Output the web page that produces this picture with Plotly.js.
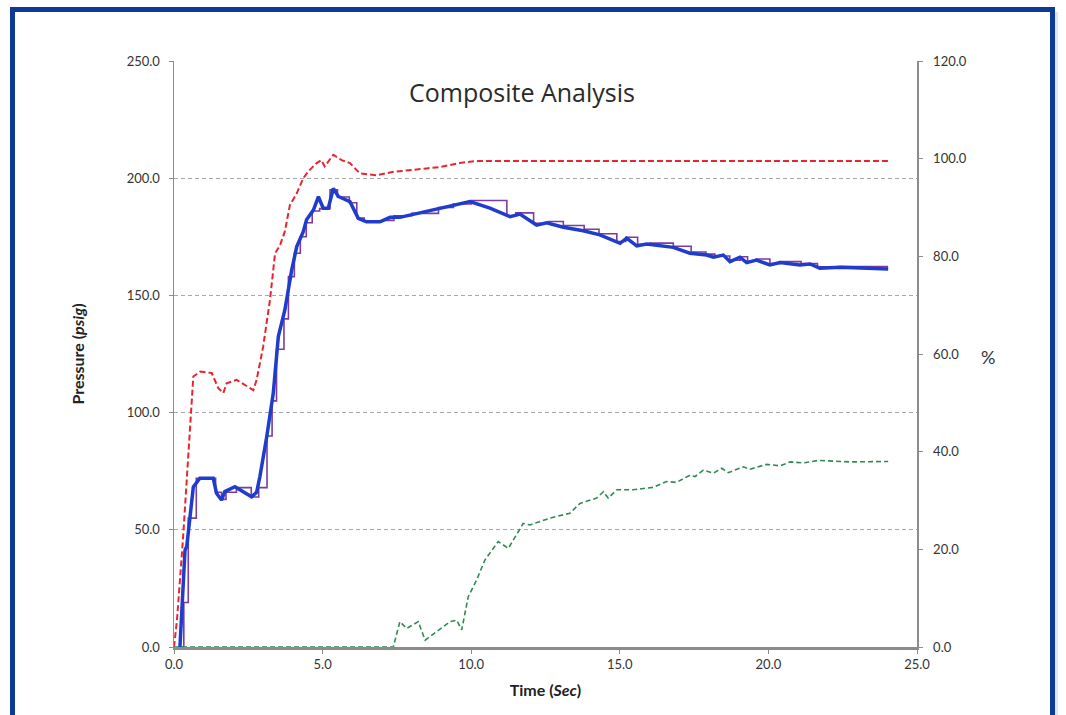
<!DOCTYPE html>
<html>
<head>
<meta charset="utf-8">
<script src="https://cdn.plot.ly/plotly-3.0.1.min.js"></script>
<style>
  html, body { margin: 0; padding: 0; background: #ffffff; overflow: hidden; }
  #wrap { position: relative; width: 1066px; height: 715px; }
  #chart { position: absolute; left: 0; top: 0; width: 1066px; height: 715px; }
  #frame { position: absolute; left: 10px; top: 7px; width: 1045px; height: 720px;
           border: 5px solid #0b3a98; pointer-events: none; box-sizing: border-box; }
  #frameR { position: absolute; left: 1054px; top: 12px; width: 4px; height: 710px;
            background: #dfe6f3; pointer-events: none; }
</style>
</head>
<body>
<div id="wrap">
  <div id="chart"></div>
  <div id="frameR"></div>
  <div id="frame"></div>
</div>
<script>
// ---- Data ----
// Blue: pressure (psig) vs time (sec)
const blueT = [0.2,0.37,0.43,0.65,0.87,1.32,1.43,1.60,1.71,2.05,2.61,2.78,2.89,3.12,3.34,3.51,3.73,3.96,4.13,4.35,4.46,4.69,4.86,5.02,5.19,5.36,5.53,5.92,6.20,6.48,6.93,7.27,7.60,7.94,8.95,9.51,9.96,10.63,11.31,11.64,12.20,12.54,13.10,13.77,14.33,15.01,15.23,15.57,15.90,16.80,17.36,17.92,18.15,18.48,18.71,19.04,19.27,19.60,20.05,20.39,21.06,21.40,21.73,22.41,23.30,24.03];
const blueP = [0,41.2,43.0,68.3,72.0,72.0,65.6,62.7,66.3,68.4,64.1,66.0,72.7,89.7,108.2,132.4,143.8,160.8,170.8,177.2,182.3,186.4,192.1,187.2,187.2,195.6,192.2,190.0,182.9,181.4,181.4,183.3,183.3,184.3,187.2,188.6,190.0,187.2,183.6,184.7,180.0,181.0,179.1,177.6,175.8,172.2,174.4,171.1,171.9,170.5,168.0,167.2,166.3,167.2,164.4,166.3,164.0,165.1,163.0,164.0,163.0,163.4,161.6,162.0,161.6,161.3];

// Purple: pressure (psig), stepped trace
const purpleT = [0.25,0.33,0.48,0.75,1.40,1.60,1.75,2.10,2.60,2.85,3.13,3.30,3.45,3.70,3.85,4.05,4.25,4.45,4.65,4.90,5.25,5.50,5.90,6.15,6.40,7.00,7.40,8.00,8.90,9.40,10.00,11.20,11.50,12.10,12.60,13.10,13.80,14.30,14.90,15.20,15.60,16.00,16.80,17.40,17.90,18.20,18.70,19.05,19.30,19.60,20.05,20.40,21.10,21.65,22.40,24.00];
const purpleP = [0,19,55,72,66,63,66,68,64,68,90,105,127,140,158,168,175,181,186,187,195,192,189.5,183,181.5,182,184,185,187.5,189,190.5,184,185.2,180.8,181.5,179.8,178.2,176.3,173,174.8,171.8,172.3,171,168.5,167.6,166.8,165,166.5,164.6,165.5,163.6,164.4,163.6,162.2,162.3,161.8];

// Red dashed: percent (right axis)
const redT = [0,0.1,0.3,0.5,0.65,0.88,1.27,1.49,1.66,1.77,2.11,2.67,2.78,3.00,3.23,3.40,3.57,3.73,3.90,4.13,4.35,4.52,4.80,4.96,5.07,5.36,5.64,5.92,6.25,6.82,7.38,8.50,8.95,9.62,10.10,24.03];
const redPct = [0,5.5,21.9,42.4,55.4,56.4,56.1,53.0,52.0,54.0,54.7,52.6,54.7,61.5,71.1,80.6,82.3,85.1,90.5,92.9,96.0,97.4,99.1,99.7,98.4,100.8,99.7,99.1,97.0,96.6,97.3,98.0,98.3,99.1,99.5,99.5];

// Green dashed: percent (right axis)
const greenT = [0,7.38,7.60,7.83,8.22,8.45,9.29,9.51,9.68,9.90,10.18,10.46,10.91,11.25,11.75,11.98,12.65,13.32,13.66,14.22,14.45,14.61,14.90,15.45,16.13,16.58,16.91,17.36,17.53,17.81,18.15,18.43,18.65,19.16,19.38,19.94,20.39,20.73,21.17,21.68,22.75,24.03];
const greenPct = [0,0,5.2,3.8,5.2,1.4,5.2,5.5,3.5,10.3,13.7,17.8,21.6,20.2,25.3,25.0,26.4,27.4,29.4,30.5,31.8,30.5,32.2,32.2,32.7,33.9,33.7,35.2,34.9,36.2,35.6,36.6,35.7,36.9,36.4,37.4,37.1,37.9,37.7,38.2,37.9,38.0];

// Text
const chartTitle = 'Composite Analysis';
const xTitle = 'Time (<i>Sec</i>)';
const yTitle = 'Pressure (<i>psig</i>)';
const y2Title = '%';

const FONT = 'Lato, "Open Sans", "DejaVu Sans", sans-serif';
const AXIS_GRAY = '#8c8c8c';
const TICK_FONT = { family: FONT, size: 13, color: '#333333' };

const traces = [
  { x: purpleT, y: purpleP, type: 'scatter', mode: 'lines', yaxis: 'y',
    line: { color: '#7a3d9e', width: 1.6, shape: 'hv' }, hoverinfo: 'skip' },
  { x: blueT, y: blueP, type: 'scatter', mode: 'lines', yaxis: 'y',
    line: { color: '#1f3ccc', width: 3.5 }, hoverinfo: 'skip' },
  { x: redT, y: redPct, type: 'scatter', mode: 'lines', yaxis: 'y2',
    line: { color: '#e8242e', width: 2, dash: '6px,3px' }, hoverinfo: 'skip' },
  { x: greenT, y: greenPct, type: 'scatter', mode: 'lines', yaxis: 'y2',
    line: { color: '#2f8a55', width: 1.6, dash: '5px,3px' }, hoverinfo: 'skip' }
];

const layout = {
  width: 1066, height: 715,
  margin: { l: 174, r: 149, t: 61, b: 68, pad: 0 },
  paper_bgcolor: 'rgba(0,0,0,0)', plot_bgcolor: '#ffffff',
  showlegend: false,
  font: { family: FONT, size: 13, color: '#333333' },
  title: { text: chartTitle, x: 522/1066, xanchor: 'center', y: 1 - 93/715, yanchor: 'middle',
           font: { family: '"Open Sans", Lato, sans-serif', size: 25, color: '#2a2a2a' } },
  xaxis: {
    range: [0, 25], dtick: 5, tick0: 0, tickformat: '.1f',
    showgrid: false, zeroline: false,
    showline: true, linecolor: AXIS_GRAY, linewidth: 2.5,
    ticks: 'outside', ticklen: 4, tickcolor: AXIS_GRAY, tickwidth: 1,
    tickfont: TICK_FONT,
    title: { text: xTitle, standoff: 14, font: { family: FONT, size: 16, color: '#222222', weight: 'bold' } },
    fixedrange: true
  },
  yaxis: {
    range: [0, 250], dtick: 50, tick0: 0, tickformat: '.1f',
    showgrid: true, gridcolor: '#a8a8a8', gridwidth: 1, griddash: '4px,3px',
    zeroline: false,
    showline: true, linecolor: AXIS_GRAY, linewidth: 1.5,
    ticks: 'outside', ticklen: 4, tickcolor: AXIS_GRAY,
    ticklabelstandoff: 6,
    tickfont: TICK_FONT,
    title: { text: yTitle, standoff: 38, font: { family: FONT, size: 16, color: '#222222', weight: 'bold' } },
    fixedrange: true
  },
  yaxis2: {
    overlaying: 'y', side: 'right',
    range: [0, 120], dtick: 20, tick0: 0, tickformat: '.1f',
    showgrid: false, zeroline: false,
    showline: true, linecolor: AXIS_GRAY, linewidth: 1.5,
    ticks: 'outside', ticklen: 4, tickcolor: AXIS_GRAY,
    ticklabelstandoff: 8,
    tickfont: TICK_FONT,
    fixedrange: true
  },
  annotations: [
    { text: y2Title, xref: 'paper', yref: 'paper', x: (988 - 174) / 743, y: (647 - 357) / 586,
      xanchor: 'center', yanchor: 'middle', showarrow: false,
      font: { family: FONT, size: 18, color: '#333333' } }
  ],
  hovermode: false
};

Plotly.newPlot('chart', traces, layout, { displayModeBar: false, staticPlot: true });
</script>
</body>
</html>
